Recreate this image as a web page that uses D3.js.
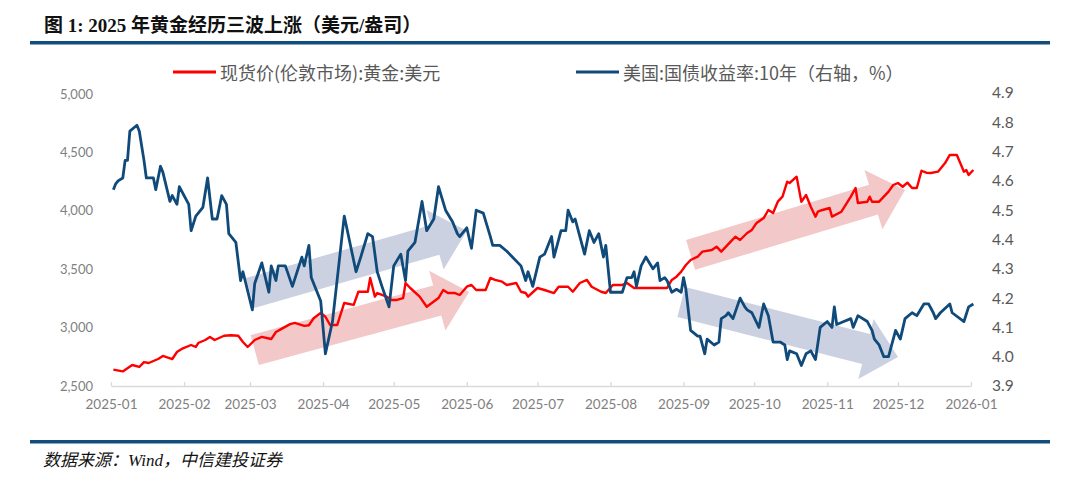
<!DOCTYPE html>
<html>
<head>
<meta charset="utf-8">
<script src="https://cdn.jsdelivr.net/npm/d3@7"></script>
<style>
  body { margin: 0; background: #fff; }
  svg { display: block; }
</style>
</head>
<body>
<svg id="chart" width="1080" height="484"></svg>
<script>
// gold spot (London), USD/oz
var goldDates = ["2025-01-02","2025-01-06","2025-01-10","2025-01-13","2025-01-15","2025-01-17","2025-01-21","2025-01-23","2025-01-27","2025-01-29","2025-01-31",
  "2025-02-04","2025-02-06","2025-02-07","2025-02-10","2025-02-12","2025-02-14","2025-02-18","2025-02-21","2025-02-24","2025-02-26","2025-02-28",
  "2025-03-03","2025-03-06","2025-03-10","2025-03-12","2025-03-14","2025-03-18","2025-03-20","2025-03-24","2025-03-26","2025-03-28","2025-03-31",
  "2025-04-02","2025-04-04","2025-04-07","2025-04-10","2025-04-14","2025-04-16","2025-04-20","2025-04-21","2025-04-23","2025-04-24","2025-04-28","2025-04-30",
  "2025-05-02","2025-05-05","2025-05-06","2025-05-08","2025-05-12","2025-05-15","2025-05-16","2025-05-20","2025-05-22","2025-05-24","2025-05-27","2025-05-29",
  "2025-06-01","2025-06-03","2025-06-05","2025-06-09","2025-06-11","2025-06-13","2025-06-16","2025-06-18","2025-06-22","2025-06-24","2025-06-26","2025-06-27",
  "2025-07-01","2025-07-04","2025-07-08","2025-07-10","2025-07-14","2025-07-16","2025-07-19","2025-07-22","2025-07-24","2025-07-28","2025-07-30",
  "2025-08-02","2025-08-06","2025-08-08","2025-08-11","2025-08-14","2025-08-19","2025-08-25","2025-08-27","2025-08-29","2025-08-31",
  "2025-09-02","2025-09-04","2025-09-07","2025-09-09","2025-09-13","2025-09-15","2025-09-17","2025-09-19","2025-09-21","2025-09-23","2025-09-25","2025-09-28","2025-09-30",
  "2025-10-02","2025-10-05","2025-10-07","2025-10-09","2025-10-11","2025-10-13","2025-10-15","2025-10-16","2025-10-19","2025-10-21","2025-10-23","2025-10-25","2025-10-27","2025-10-28","2025-10-30",
  "2025-11-02","2025-11-03","2025-11-07","2025-11-11","2025-11-13","2025-11-14","2025-11-18","2025-11-19","2025-11-20","2025-11-23","2025-11-25","2025-11-27","2025-11-29",
  "2025-12-01","2025-12-03","2025-12-05","2025-12-07","2025-12-09","2025-12-11","2025-12-13","2025-12-15","2025-12-18","2025-12-21","2025-12-23","2025-12-26","2025-12-29","2025-12-30","2025-12-31",
  "2026-01-02"];
var goldValues = [2640,2625,2680,2663,2705,2697,2731,2757,2731,2791,2817,
  2851,2834,2868,2894,2920,2894,2930,2935,2930,2877,2834,
  2894,2920,2902,2962,2985,3030,3040,3015,3020,3080,3125,
  3093,3022,3022,3211,3194,3307,3307,3425,3265,3296,3265,3236,
  3236,3253,3382,3339,3265,3179,3194,3253,3322,3296,3296,3279,
  3350,3365,3322,3322,3425,3408,3393,3365,3382,3307,3296,3265,
  3339,3322,3296,3350,3350,3307,3382,3408,3350,3307,3296,
  3365,3365,3382,3339,3339,3339,3339,3408,3436,3479,
  3536,3579,3607,3650,3664,3693,3650,3693,3736,3778,3750,3810,3836,
  3896,3938,4007,3981,4078,4121,4249,4238,4292,4078,4135,4035,3950,3992,4007,
  4024,3950,3992,4121,4195,4067,4078,4121,4078,4078,4121,4164,4221,
  4238,4206,4241,4195,4195,4343,4326,4324,4335,4409,4478,4478,4335,4349,4307,
  4349];

// US 10y treasury yield, %
var yieldDates = ["2025-01-02","2025-01-03","2025-01-04","2025-01-06","2025-01-07","2025-01-08","2025-01-09","2025-01-12","2025-01-13","2025-01-15","2025-01-16","2025-01-19","2025-01-20","2025-01-22","2025-01-23","2025-01-26","2025-01-27","2025-01-29","2025-01-30",
  "2025-02-03","2025-02-04","2025-02-06","2025-02-09","2025-02-11","2025-02-13","2025-02-15","2025-02-17","2025-02-19","2025-02-20","2025-02-23","2025-02-25","2025-02-26",
  "2025-03-02","2025-03-03","2025-03-06","2025-03-09","2025-03-10","2025-03-12","2025-03-13","2025-03-16","2025-03-19","2025-03-23","2025-03-24","2025-03-26","2025-03-27","2025-03-29","2025-03-31",
  "2025-04-02","2025-04-05","2025-04-10","2025-04-15","2025-04-17","2025-04-20","2025-04-22","2025-04-24","2025-04-26","2025-04-29",
  "2025-05-01","2025-05-04","2025-05-06","2025-05-07","2025-05-10","2025-05-13","2025-05-15","2025-05-18","2025-05-20","2025-05-23","2025-05-26","2025-05-28","2025-05-29",
  "2025-06-01","2025-06-03","2025-06-05","2025-06-08","2025-06-11","2025-06-12","2025-06-15","2025-06-18","2025-06-24","2025-06-26","2025-06-27","2025-06-29",
  "2025-07-02","2025-07-04","2025-07-07","2025-07-08","2025-07-11","2025-07-13","2025-07-14","2025-07-16","2025-07-17","2025-07-19","2025-07-21","2025-07-23","2025-07-25","2025-07-27","2025-07-29","2025-07-30",
  "2025-08-01","2025-08-04","2025-08-06","2025-08-08","2025-08-10","2025-08-11","2025-08-12","2025-08-14","2025-08-16","2025-08-19","2025-08-21","2025-08-22","2025-08-24","2025-08-25","2025-08-27","2025-08-29","2025-08-31",
  "2025-09-01","2025-09-02","2025-09-04","2025-09-07","2025-09-08","2025-09-10","2025-09-11","2025-09-14","2025-09-16","2025-09-17","2025-09-19","2025-09-20","2025-09-22","2025-09-25","2025-09-27","2025-09-28","2025-09-30",
  "2025-10-03","2025-10-05","2025-10-07","2025-10-09","2025-10-12","2025-10-14","2025-10-15","2025-10-16","2025-10-19","2025-10-21","2025-10-23","2025-10-25","2025-10-27","2025-10-29",
  "2025-11-01","2025-11-03","2025-11-04","2025-11-05","2025-11-08","2025-11-11","2025-11-12","2025-11-14","2025-11-18","2025-11-20","2025-11-21","2025-11-23","2025-11-25","2025-11-27","2025-11-30",
  "2025-12-02","2025-12-04","2025-12-07","2025-12-09","2025-12-12","2025-12-14","2025-12-16","2025-12-17","2025-12-19","2025-12-23","2025-12-24","2025-12-29","2025-12-31",
  "2026-01-02"];
var yieldValues = [4.57,4.59,4.60,4.61,4.67,4.67,4.77,4.79,4.77,4.67,4.61,4.61,4.57,4.65,4.63,4.53,4.55,4.52,4.58,
  4.52,4.43,4.48,4.51,4.61,4.47,4.47,4.55,4.52,4.42,4.39,4.26,4.29,
  4.16,4.25,4.32,4.22,4.31,4.26,4.31,4.31,4.24,4.34,4.31,4.38,4.27,4.23,4.19,
  4.01,4.12,4.48,4.29,4.34,4.42,4.41,4.29,4.24,4.17,
  4.31,4.35,4.26,4.36,4.39,4.53,4.43,4.47,4.58,4.50,4.46,4.42,4.41,
  4.44,4.37,4.50,4.49,4.41,4.38,4.38,4.36,4.31,4.26,4.29,4.24,
  4.34,4.35,4.41,4.34,4.43,4.43,4.50,4.46,4.47,4.41,4.35,4.43,4.39,4.42,4.34,4.38,
  4.22,4.22,4.22,4.27,4.27,4.29,4.24,4.31,4.34,4.30,4.32,4.26,4.27,4.26,4.22,4.23,4.22,
  4.27,4.23,4.09,4.07,4.07,4.01,4.06,4.04,4.05,4.13,4.14,4.15,4.13,4.20,4.17,4.16,4.15,
  4.10,4.18,4.14,4.05,4.05,4.04,3.99,4.02,4.01,3.97,4.01,4.02,3.99,4.10,
  4.12,4.10,4.17,4.11,4.12,4.13,4.10,4.14,4.12,4.09,4.06,4.04,4.00,4.00,4.09,
  4.06,4.13,4.15,4.14,4.18,4.18,4.15,4.13,4.15,4.18,4.15,4.12,4.17,
  4.18];

var goldTicks = [2500, 3000, 3500, 4000, 4500, 5000];
var yieldTicks = [3.9, 4.0, 4.1, 4.2, 4.3, 4.4, 4.5, 4.6, 4.7, 4.8, 4.9];

// trend arrows, in (date, gold price) terms
var arrowFrom = [["2025-03-01", 3296], ["2025-03-03", 2808], ["2025-09-04", 3622], ["2025-08-31", 3219]];
var arrowTo   = [["2025-06-01", 3830], ["2025-06-02", 3305], ["2025-12-04", 4178], ["2025-12-01", 2748]];
var arrowKind = ["blue", "red", "red", "blue"];

var titleText = "图 1: 2025 年黄金经历三波上涨（美元/盎司）";
var legendNames = ["现货价(伦敦市场):黄金:美元", "美国:国债收益率:10年（右轴，%）"];
var sourceText = "数据来源：Wind，中信建投证券";

var parse = d3.timeParse("%Y-%m-%d");
var svg = d3.select("#chart");

var x = d3.scaleTime()
    .domain([parse("2025-01-01"), parse("2026-01-01")])
    .range([111, 971]);
var yL = d3.scaleLinear().domain([2500, 5000]).range([386, 94]);
var yR = d3.scaleLinear().domain([3.9, 4.9]).range([386, 93]);

var RED = "#ff0000", BLUE = "#0f4a7a", DARK = "#114e7d";

svg.append("rect").attr("width", 1080).attr("height", 484).attr("fill", "#fff");

// title + rules
svg.append("text")
    .attr("x", 44).attr("y", 32)
    .style("font-family", "'Liberation Serif', 'Noto Sans CJK SC', serif")
    .style("font-weight", "bold")
    .style("font-size", "19px")
    .style("fill", "#111")
    .text(titleText);
svg.append("rect").attr("x", 30).attr("y", 41).attr("width", 1020).attr("height", 3.5).attr("fill", DARK);
svg.append("rect").attr("x", 30).attr("y", 440).attr("width", 1020).attr("height", 3.5).attr("fill", DARK);
svg.append("text")
    .attr("x", 43).attr("y", 466)
    .style("font-family", "'Liberation Serif', 'Noto Sans CJK SC', serif")
    .style("font-style", "italic")
    .style("font-size", "17px")
    .style("fill", "#111")
    .text(sourceText);

// legend
var legendX = [173, 576];
var legendColors = [RED, BLUE];
legendNames.forEach(function(name, i) {
    svg.append("line")
        .attr("x1", legendX[i]).attr("x2", legendX[i] + 43)
        .attr("y1", 72).attr("y2", 72)
        .attr("stroke", legendColors[i]).attr("stroke-width", 2.8);
    svg.append("text")
        .attr("x", legendX[i] + 47).attr("y", 72)
        .attr("dominant-baseline", "central")
        .style("font-family", "'Noto Sans CJK SC', sans-serif")
        .style("font-size", "18px")
        .style("fill", "#595959")
        .text(name);
});

// arrows
function arrowPath(p0, p1) {
    var w = 15.5, h = 31, L = 33;
    var dx = p1[0] - p0[0], dy = p1[1] - p0[1];
    var len = Math.sqrt(dx * dx + dy * dy);
    var ux = dx / len, uy = dy / len, nx = -uy, ny = ux;
    var bx = p1[0] - L * ux, by = p1[1] - L * uy;
    var pts = [
        [p0[0] + nx * w, p0[1] + ny * w],
        [bx + nx * w, by + ny * w],
        [bx + nx * h, by + ny * h],
        p1,
        [bx - nx * h, by - ny * h],
        [bx - nx * w, by - ny * w],
        [p0[0] - nx * w, p0[1] - ny * w]
    ];
    return "M" + pts.map(function(p) { return p[0].toFixed(1) + "," + p[1].toFixed(1); }).join("L") + "Z";
}
svg.selectAll(".arrow")
    .data(arrowKind)
    .enter()
    .append("path")
        .attr("class", "arrow")
        .attr("d", function(d, i) {
            var a = [x(parse(arrowFrom[i][0])), yL(arrowFrom[i][1])];
            var b = [x(parse(arrowTo[i][0])), yL(arrowTo[i][1])];
            return arrowPath(a, b);
        })
        .attr("fill", function(d) { return d == "red" ? "#f2c8c8" : "#cbd1e1"; });

// x axis
var xAxis = svg.append("g")
    .attr("transform", "translate(0,386)")
    .call(d3.axisBottom(x)
        .ticks(d3.timeMonth.every(1))
        .tickFormat(d3.timeFormat("%Y-%m"))
        .tickSize(-4)
        .tickSizeOuter(0)
        .tickPadding(13));
xAxis.select(".domain").attr("stroke", "#d9d9d9").attr("stroke-width", 1.3);
xAxis.selectAll(".tick line").attr("stroke", "#d9d9d9").attr("stroke-width", 1.3);
xAxis.selectAll("text")
    .style("font-family", "Lato, 'Open Sans', sans-serif")
    .style("font-size", "13.5px")
    .style("fill", "#7f7f7f");

// left axis
var lAxis = svg.append("g")
    .attr("transform", "translate(93,0)")
    .call(d3.axisLeft(yL).tickValues(goldTicks).tickFormat(d3.format(",")).tickSize(0).tickPadding(0));
lAxis.select(".domain").remove();
lAxis.selectAll("text")
    .style("font-family", "Lato, 'Open Sans', sans-serif")
    .style("font-size", "13px")
    .style("fill", "#7f7f7f");

// right axis
var rAxis = svg.append("g")
    .attr("transform", "translate(992,0)")
    .call(d3.axisRight(yR).tickValues(yieldTicks).tickFormat(d3.format(".1f")).tickSize(0).tickPadding(0));
rAxis.select(".domain").remove();
rAxis.selectAll("text")
    .style("font-family", "Lato, 'Open Sans', sans-serif")
    .style("font-size", "15.5px")
    .style("fill", "#595959");

// lines
var goldData = goldDates.map(function(d, i) { return [parse(d), goldValues[i]]; });
var yieldData = yieldDates.map(function(d, i) { return [parse(d), yieldValues[i]]; });

svg.append("path")
    .datum(goldData)
    .attr("fill", "none")
    .attr("stroke", RED)
    .attr("stroke-width", 2.4)
    .attr("stroke-linejoin", "round")
    .attr("d", d3.line().x(function(d) { return x(d[0]); }).y(function(d) { return yL(d[1]); }));

svg.append("path")
    .datum(yieldData)
    .attr("fill", "none")
    .attr("stroke", BLUE)
    .attr("stroke-width", 2.8)
    .attr("stroke-linejoin", "round")
    .attr("d", d3.line().x(function(d) { return x(d[0]); }).y(function(d) { return yR(d[1]); }));
</script>
</body>
</html>
